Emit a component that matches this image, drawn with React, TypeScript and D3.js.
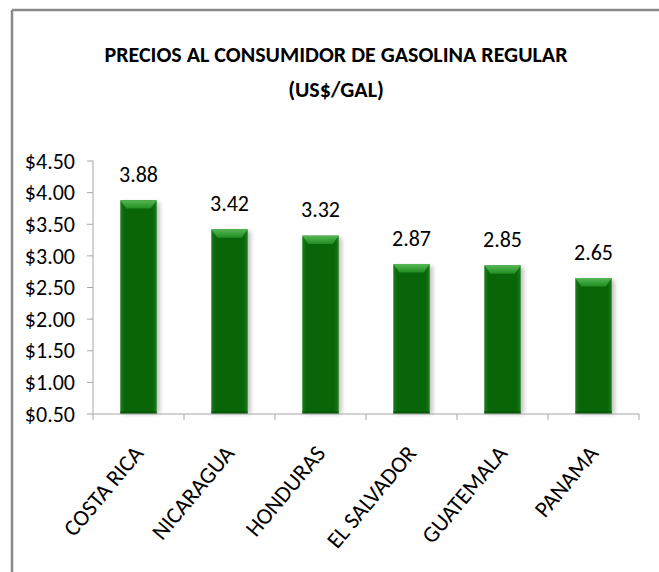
import React from "react";
import * as d3 from "d3";

const countries = ["COSTA RICA", "NICARAGUA", "HONDURAS", "EL SALVADOR", "GUATEMALA", "PANAMA"];
const prices = [3.88, 3.42, 3.32, 2.87, 2.85, 2.65];
const yTicks = [0.5, 1.0, 1.5, 2.0, 2.5, 3.0, 3.5, 4.0, 4.5];
const titleLines = ["PRECIOS AL CONSUMIDOR DE GASOLINA REGULAR", "(US$/GAL)"];

const W = 659;
const H = 572;
const FONT = "Carlito, Calibri, Lato, sans-serif";

export default function App() {
  const x = d3.scaleBand<string>().domain(countries).range([93, 639]).paddingInner(0.6).paddingOuter(0.3);
  const y = d3.scaleLinear().domain([0.5, 4.5]).range([414, 161]);
  const step = x.step();
  const left = 93;
  const right = 639;
  const base = y(0.5);
  const bw = x.bandwidth();
  const boundaries = d3.range(countries.length + 1).map((i) => left + i * step);

  return (
    <svg width={W} height={H} style={{ position: "absolute", left: 0, top: 0, background: "#fff" }}>
      <defs>
        <linearGradient id="body" x1="0" x2="1" y1="0" y2="0">
          <stop offset="0" stopColor="#1c7c1c" />
          <stop offset="0.12" stopColor="#086608" />
          <stop offset="0.88" stopColor="#086608" />
          <stop offset="1" stopColor="#1c7c1c" />
        </linearGradient>
        <linearGradient id="topg" x1="0" x2="0" y1="0" y2="1">
          <stop offset="0" stopColor="#55b855" />
          <stop offset="1" stopColor="#228c22" />
        </linearGradient>
        <filter id="sh" x="-30%" y="-10%" width="160%" height="120%">
          <feGaussianBlur stdDeviation="2" />
        </filter>
      </defs>
      <rect x={0} y={0} width={W} height={H} fill="#fff" />
      <line x1={12} x2={W} y1={10} y2={10} stroke="#8a8a8a" strokeWidth={2.5} />
      <line x1={12} x2={12} y1={10} y2={H} stroke="#8a8a8a" strokeWidth={2.5} />

      {titleLines.map((t, i) => (
        <text key={t} x={336} y={62 + i * 35} textAnchor="middle" fontFamily={FONT} fontWeight="bold" fontSize={22} fill="#000">
          {t}
        </text>
      ))}

      {/* y axis */}
      <line x1={left} x2={left} y1={y(4.5)} y2={base} stroke="#a6a6a6" />
      {yTicks.map((t) => (
        <g key={t}>
          <line x1={left - 6} x2={left} y1={y(t)} y2={y(t)} stroke="#a6a6a6" />
          <text x={75} y={y(t)} dy="0.35em" textAnchor="end" fontFamily={FONT} fontSize={22} fill="#000">
            {"$" + t.toFixed(2)}
          </text>
        </g>
      ))}

      {/* bars */}
      {countries.map((c, i) => {
        const x0 = x(c)!;
        const yt = y(prices[i]);
        const h = base - yt;
        const bev = 6;
        return (
          <g key={c}>
            <rect x={x0 + 3} y={yt + 2} width={bw} height={h - 2} fill="#777" opacity={0.45} filter="url(#sh)" />
            <rect x={x0} y={yt} width={bw} height={h} fill="url(#body)" />
            <path
              d={`M${x0},${yt} L${x0 + bw},${yt} L${x0 + bw - bev},${yt + bev * 1.4} L${x0 + bev},${yt + bev * 1.4} Z`}
              fill="url(#topg)"
            />
            <rect x={x0} y={base - 3} width={bw} height={3} fill="#055505" opacity={0.6} />
            <text x={x0 + bw / 2} y={yt - 26} dy="0.35em" textAnchor="middle" fontFamily={FONT} fontSize={22} fill="#000">
              {prices[i].toFixed(2)}
            </text>
          </g>
        );
      })}

      {/* x axis */}
      <line x1={left} x2={right} y1={base} y2={base} stroke="#a6a6a6" />
      {boundaries.map((b, i) => (
        <line key={i} x1={b} x2={b} y1={base} y2={base + 6} stroke="#a6a6a6" />
      ))}
      {countries.map((c) => {
        const cx = x(c)! + bw / 2 + 6;
        const cy = base + 40;
        return (
          <text key={c} transform={`translate(${cx},${cy}) rotate(-50)`} textAnchor="end" fontFamily={FONT} fontSize={23} fill="#000">
            {c}
          </text>
        );
      })}
    </svg>
  );
}
